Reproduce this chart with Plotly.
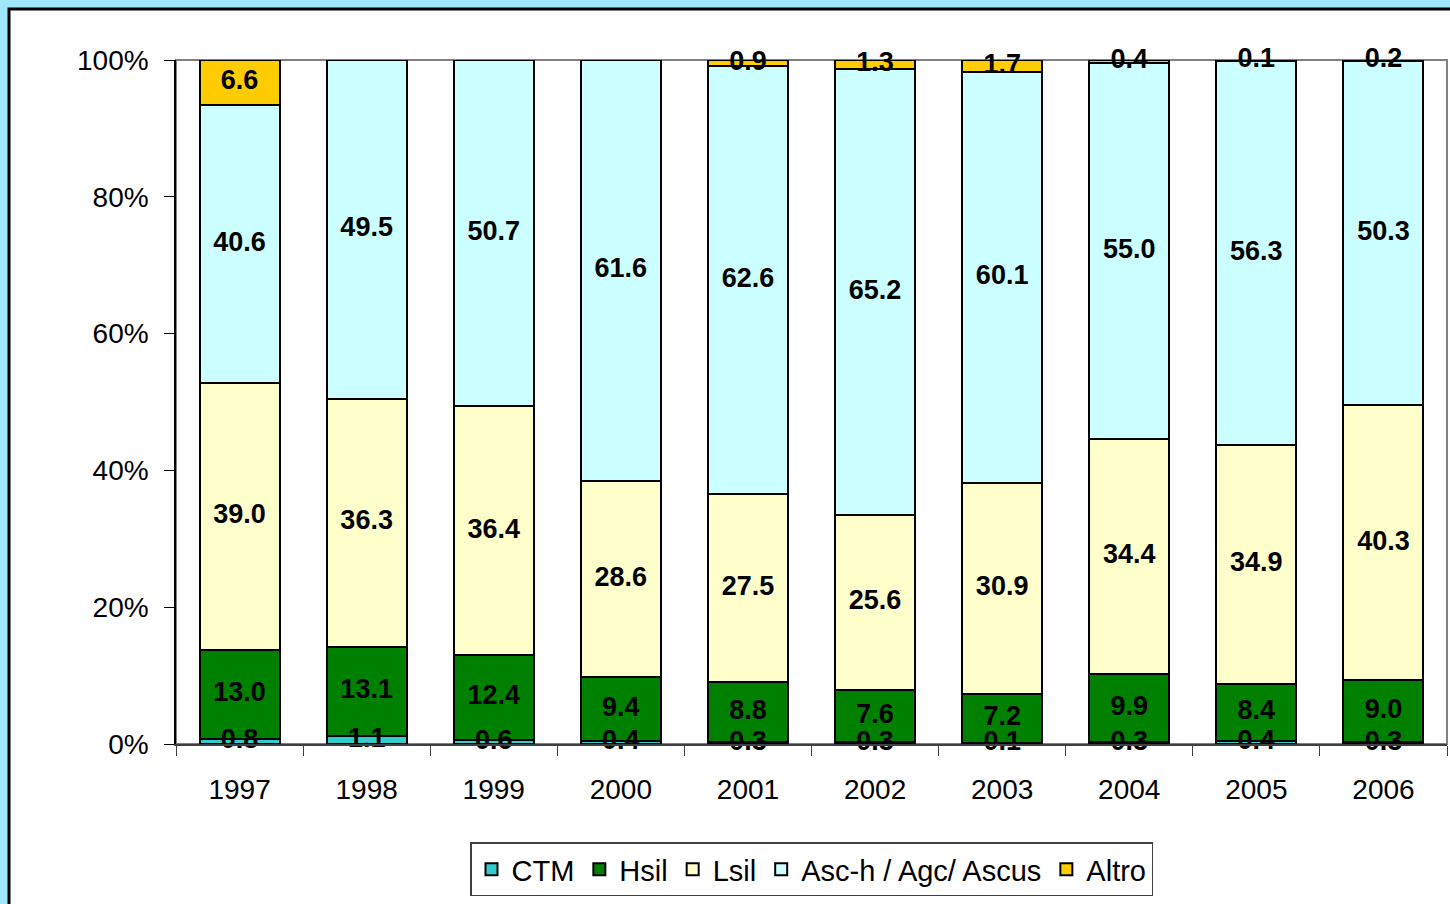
import numpy as np
import plotly.graph_objects as go

years = ["1997", "1998", "1999", "2000", "2001", "2002", "2003", "2004", "2005", "2006"]

ctm = [0.8, 1.1, 0.6, 0.4, 0.3, 0.3, 0.1, 0.3, 0.4, 0.3]
hsil = [13.0, 13.1, 12.4, 9.4, 8.8, 7.6, 7.2, 9.9, 8.4, 9.0]
lsil = [39.0, 36.3, 36.4, 28.6, 27.5, 25.6, 30.9, 34.4, 34.9, 40.3]
asc = [40.6, 49.5, 50.7, 61.6, 62.6, 65.2, 60.1, 55.0, 56.3, 50.3]
altro = [6.6, None, None, None, 0.9, 1.3, 1.7, 0.4, 0.1, 0.2]

series = [
    ("CTM", ctm, "#33CCCC"),
    ("Hsil", hsil, "#008000"),
    ("Lsil", lsil, "#FFFFCC"),
    ("Asc-h / Agc/ Ascus", asc, "#CCFFFF"),
    ("Altro", altro, "#FFCC00"),
]

FONT = "Liberation Sans, Arial, sans-serif"

fig = go.Figure()
for name, vals, color in series:
    fig.add_trace(go.Bar(
        x=years, y=vals, name=name, hoverinfo="skip",
        marker=dict(color=color, line=dict(color="black", width=2)),
    ))

# value labels drawn above all bars (Excel puts them on top of every segment)
arr = np.array([[np.nan if v is None else v for v in s[1]] for s in series], dtype=float)
filled = np.nan_to_num(arr)
totals = filled.sum(axis=0)
tops = np.cumsum(filled, axis=0) / totals * 100
mids = tops - filled / totals * 100 / 2
lx, ly, lt = [], [], []
for i in range(len(series)):
    for j, yr in enumerate(years):
        if not np.isnan(arr[i, j]):
            lx.append(yr)
            ly.append(mids[i, j])
            lt.append(f"{arr[i, j]:.1f}")
fig.add_trace(go.Scatter(
    x=lx, y=ly, text=lt, mode="text", textposition="middle center",
    textfont=dict(family=FONT, size=27, color="black", weight="bold"),
    cliponaxis=False, showlegend=False, hoverinfo="skip",
))

# plot-area size used to place the outer white panel
L, R, T, B = 176, 3, 60, 160
W, H = 1450, 904
pw, ph = W - L - R, H - T - B

fig.update_layout(
    width=W, height=H,
    barmode="stack", barnorm="percent", bargap=0.37,
    paper_bgcolor="#9FE6FA", plot_bgcolor="rgba(0,0,0,0)",
    margin=dict(l=L, r=R, t=T, b=B),
    font=dict(family=FONT, size=28, color="black"),
    showlegend=True,
    legend=dict(
        orientation="h", x=0.5, xanchor="center", y=-0.144, yanchor="top",
        bordercolor="#404040", borderwidth=1.5, bgcolor="white",
        font=dict(size=29), itemwidth=30, traceorder="normal",
    ),
    shapes=[
        dict(type="rect", xref="paper", yref="paper", layer="below",
             x0=(9 - L) / pw, x1=1.05, y0=-0.5, y1=1 + (T - 9) / ph,
             fillcolor="white", line=dict(color="black", width=3)),
        dict(type="rect", xref="paper", yref="paper", layer="below",
             x0=0, x1=1, y0=0, y1=1, line=dict(color="#808080", width=2)),
    ],
)

fig.update_xaxes(
    showline=True, linecolor="#404040", linewidth=1.5,
    ticks="outside", tickson="boundaries", ticklen=10, tickcolor="#404040",
    tickfont=dict(size=28), ticklabelstandoff=20, showgrid=False,
)
fig.update_yaxes(
    range=[0, 100], tickvals=[0, 20, 40, 60, 80, 100],
    ticktext=["0%", "20%", "40%", "60%", "80%", "100%"],
    showline=True, linecolor="black", linewidth=1.5,
    ticks="outside", ticklen=10, tickcolor="black",
    tickfont=dict(size=28), ticklabelstandoff=10,
    showgrid=False, zeroline=False,
)

# drop the page's default body margin so the figure sits at the window corner
fig.write_html("out.html", config={"displayModeBar": False},
               post_script="document.body.style.margin='0';")
